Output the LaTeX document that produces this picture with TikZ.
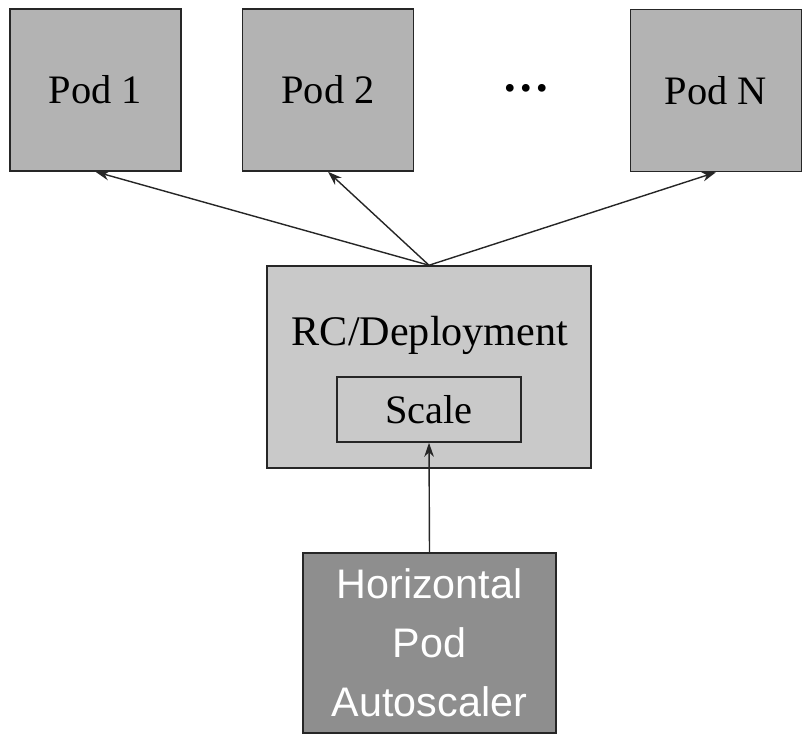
\documentclass[tikz,border=0pt]{standalone}
\usepackage{fontspec}
\setmainfont{Liberation Serif}
\setsansfont{Liberation Sans}
\usetikzlibrary{arrows.meta}
\definecolor{podgray}{HTML}{B3B3B3}
\definecolor{rcgray}{HTML}{C9C9C9}
\definecolor{hpagray}{HTML}{8E8E8E}

\begin{document}
\begin{tikzpicture}[x=0.02cm,y=-0.02cm,>={Stealth[length=8pt,width=5.5pt]},
    podbox/.style={draw=black!85,line width=0.9pt,fill=podgray,minimum width=3.42cm,minimum height=3.24cm,inner sep=0pt,font=\fontsize{23}{28}\selectfont},
    rcbox/.style={draw=black!85,line width=0.9pt,fill=rcgray,minimum width=6.48cm,minimum height=4.04cm,inner sep=0pt},
    scalebox/.style={draw=black!85,line width=0.9pt,fill=rcgray,minimum width=3.68cm,minimum height=1.3cm,inner sep=0pt,font=\fontsize{23}{28}\selectfont},
    hpabox/.style={draw=black!85,line width=0.9pt,fill=hpagray,minimum width=5.06cm,minimum height=3.6cm,inner sep=0pt,text=white,align=center,font=\sffamily\fontsize{23.5}{33.5}\selectfont},
    link/.style={->,line width=0.8pt,black!85}]
    \useasboundingbox (0,0) rectangle (812,744);
    \node[podbox] (pod1) at (95.5,90) {Pod 1};
    \node[podbox] (pod2) at (328,90) {Pod 2};
    \node[podbox] (podn) at (716,90.5) {Pod N};
    \node[anchor=base,inner sep=0pt,font=\bfseries\fontsize{27}{30}\selectfont] (dots) at (526,91) {…};
    \node[rcbox] (rc) at (429,367) {};
    \node[anchor=base,font=\fontsize{24}{28}\selectfont] (rclabel) at (430,345) {RC/Deployment};
    \node[scalebox] (scale) at (429,409.5) {Scale};
    \node[hpabox] (hpa) at (429.5,643) {Horizontal\\Pod\\Autoscaler};
    % connectors
    \draw[link] (rc.north) -- (pod1.south);
    \draw[link] (rc.north) -- (pod2.south);
    \draw[link] (rc.north) -- (podn.south);
    \draw[link] (hpa.north) -- (scale.south);
\end{tikzpicture}
\end{document}
